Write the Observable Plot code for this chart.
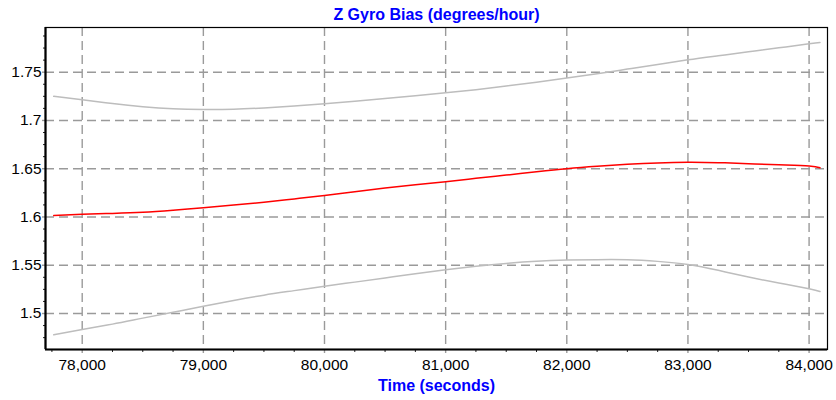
<!DOCTYPE html>
<html>
<head>
<meta charset="utf-8">
<script src="https://cdn.jsdelivr.net/npm/d3@7"></script>
<script src="https://cdn.jsdelivr.net/npm/@observablehq/plot@0.6"></script>
<style>
  html, body { margin: 0; padding: 0; background: #fff; }
  #chart svg { display: block; }
</style>
</head>
<body>
<div id="chart"></div>
<script>
// ---- data ----
const title = "Z Gyro Bias (degrees/hour)";
const xLabel = "Time (seconds)";
const time = [77765, 78000, 78250, 78500, 78750, 79000, 79250, 79500, 79750, 80000, 80250, 80500, 80750, 81000, 81250, 81500, 81750, 82000, 82250, 82500, 82750, 83000, 83250, 83500, 83750, 84000, 84090];
const bias = [1.6015, 1.6027, 1.6037, 1.6049, 1.6070, 1.6095, 1.6123, 1.6153, 1.6187, 1.6222, 1.6262, 1.6300, 1.6335, 1.6366, 1.6400, 1.6434, 1.6468, 1.6500, 1.6525, 1.6545, 1.6560, 1.6567, 1.6563, 1.6552, 1.6540, 1.6528, 1.6510];
const upper = [1.7250, 1.7214, 1.7175, 1.7142, 1.7120, 1.7113, 1.7116, 1.7130, 1.7149, 1.7172, 1.7199, 1.7227, 1.7256, 1.7286, 1.7319, 1.7356, 1.7397, 1.7440, 1.7485, 1.7532, 1.7580, 1.7628, 1.7670, 1.7711, 1.7752, 1.7794, 1.7808];
const lower = [1.4779, 1.4834, 1.4890, 1.4952, 1.5013, 1.5075, 1.5135, 1.5190, 1.5237, 1.5283, 1.5325, 1.5368, 1.5412, 1.5453, 1.5489, 1.5519, 1.5541, 1.5553, 1.5558, 1.5557, 1.5540, 1.5507, 1.5447, 1.5378, 1.5316, 1.5256, 1.5228];
const xTicks = [78000, 79000, 80000, 81000, 82000, 83000, 84000];
const xMinorTicks = [77750, 78250, 78500, 78750, 79250, 79500, 79750, 80250, 80500, 80750, 81250, 81500, 81750, 82250, 82500, 82750, 83250, 83500, 83750, 84000, 84250].filter(v => !xTicks.includes(v));
const yTicks = [1.5, 1.55, 1.6, 1.65, 1.7, 1.75];
const yMinorTicks = [1.4625, 1.475, 1.4875, 1.5125, 1.525, 1.5375, 1.5625, 1.575, 1.5875, 1.6125, 1.625, 1.6375, 1.6625, 1.675, 1.6875, 1.7125, 1.725, 1.7375, 1.7625, 1.775, 1.7875];
const xDomain = [77697, 84152];
const yDomain = [1.4627, 1.7963];

const rows = time.map((t, i) => ({t, bias: bias[i], upper: upper[i], lower: lower[i]}));

const FONT = "'Liberation Sans', Arial, Helvetica, sans-serif";
const gridStyle = {stroke: "#9a9a9a", strokeOpacity: 1, strokeWidth: 1.4, strokeDasharray: "9,5"};

const chart = Plot.plot({
  width: 836,
  height: 400,
  marginLeft: 45,
  marginRight: 9,
  marginTop: 27,
  marginBottom: 51,
  style: {fontFamily: FONT, fontSize: "15.5px", color: "black", background: "white"},
  x: {domain: xDomain, axis: null},
  y: {domain: yDomain, axis: null},
  marks: [
    Plot.gridX(xTicks, {...gridStyle}),
    Plot.gridY(yTicks, {...gridStyle}),
    // minor ticks
    Plot.axisX(xMinorTicks.filter(v => v >= xDomain[0] && v <= xDomain[1]), {anchor: "bottom", tickSize: 3, tickFormat: () => "", stroke: "#222", strokeWidth: 1, label: null}),
    Plot.axisY(yMinorTicks.filter(v => v >= yDomain[0] && v <= yDomain[1]), {anchor: "left", tickSize: 2, tickFormat: () => "", stroke: "#222", strokeWidth: 1, label: null}),
    // major ticks + labels
    Plot.axisX(xTicks, {anchor: "bottom", tickSize: 4, tickPadding: 5, tickFormat: d3.format(","), stroke: "#9a9a9a", strokeWidth: 1.4, fontSize: 15.5, fill: "black", label: null}),
    Plot.axisY(yTicks, {anchor: "left", tickSize: 3, tickPadding: 1, tickFormat: d => String(d), stroke: "#9a9a9a", strokeWidth: 1.4, fontSize: 15.5, fill: "black", label: null}),
    // series
    Plot.line(rows, {x: "t", y: "upper", stroke: "#bdbdbd", strokeWidth: 1.5, curve: "natural"}),
    Plot.line(rows, {x: "t", y: "lower", stroke: "#bdbdbd", strokeWidth: 1.5, curve: "natural"}),
    Plot.line(rows, {x: "t", y: "bias", stroke: "#ff0000", strokeWidth: 1.5, curve: "natural"}),
    // frame
    Plot.frame({stroke: "black", strokeWidth: 1.2}),
    Plot.ruleX([xDomain[0]], {stroke: "black", strokeWidth: 2.2}),
    Plot.ruleY([yDomain[0]], {stroke: "black", strokeWidth: 2.2}),
    // title and x label
    Plot.text([title], {frameAnchor: "top", lineAnchor: "middle", dy: -12.5, text: d => d, fill: "#0000ff", fontWeight: "bold", fontSize: 16}),
    Plot.text([xLabel], {frameAnchor: "bottom", lineAnchor: "middle", dy: 36.5, text: d => d, fill: "#0000ff", fontWeight: "bold", fontSize: 16})
  ]
});
document.getElementById("chart").appendChild(chart);
</script>
</body>
</html>
